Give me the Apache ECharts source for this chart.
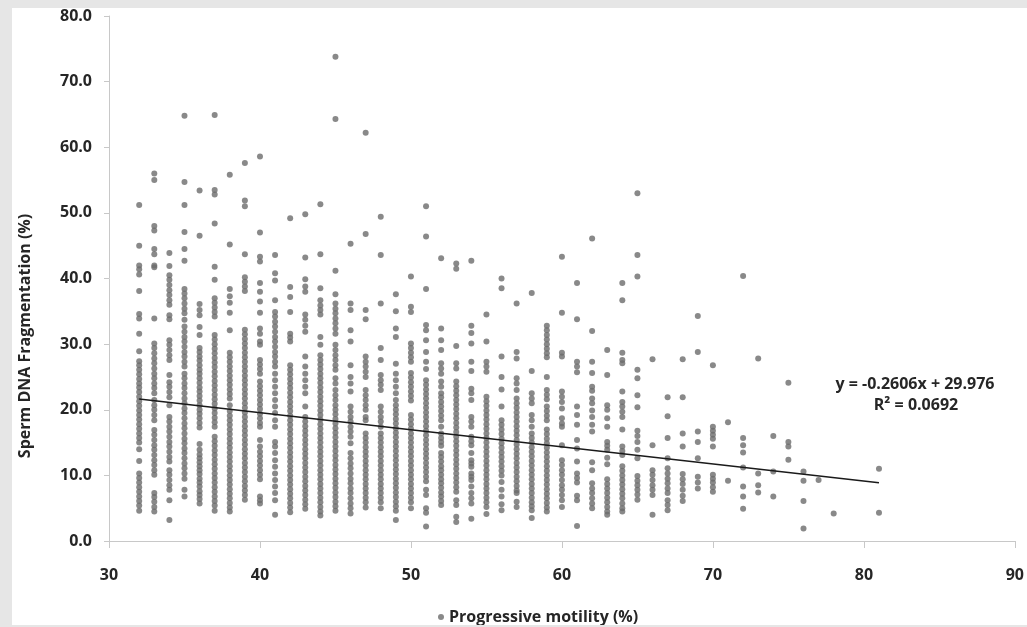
<!DOCTYPE html>
<html>
<head>
<meta charset="utf-8">
<script src="https://cdn.jsdelivr.net/npm/echarts@6/dist/echarts.min.js"></script>
<style>
	html, body { margin: 0; padding: 0; background: #e6e6e6; width: 1027px; height: 627px; overflow: hidden; }
	#chart { position: absolute; left: 12px; top: 8px; width: 1015px; height: 617px; background: #fff; }
</style>
</head>
<body>
<div id="chart"></div>
<script>
// x: progressive motility (%), one column of points per value
var motility = [32, 33, 34, 35, 36, 37, 38, 39, 40, 41, 42, 43, 44, 45, 46, 47, 48, 49, 50,
	51, 52, 53, 54, 55, 56, 57, 58, 59, 60, 61, 62, 63, 64, 65, 66, 67, 68, 69, 70,
	71, 72, 73, 74, 75, 76, 77, 78, 81];

// y: sperm DNA fragmentation (%)
var fragmentation = [
	[51.2, 45.0, 42.0, 41.4, 40.6, 38.1, 34.6, 33.9, 31.6, 28.9, 27.4, 26.8, 26.1, 25.4, 24.7, 24.0, 23.4, 22.7, 22.0, 21.3, 20.6, 19.9, 19.2, 18.5, 17.8, 17.1, 16.4, 15.7, 15.0, 14.0, 12.2, 10.3, 9.6, 8.9, 8.2, 7.5, 6.8, 6.1, 5.4, 4.6],
	[56.0, 55.0, 48.0, 47.3, 44.5, 43.7, 42.0, 41.7, 33.9, 30.1, 29.4, 28.6, 27.8, 27.1, 26.3, 25.5, 24.8, 24.0, 23.3, 22.5, 21.5, 20.7, 20.0, 19.2, 18.4, 16.9, 16.2, 15.4, 14.6, 13.9, 13.1, 12.3, 11.6, 10.8, 10.1, 7.3, 6.7, 6.0, 5.2, 4.5],
	[43.9, 41.9, 40.5, 39.8, 39.0, 38.2, 37.5, 36.7, 36.0, 34.4, 33.8, 30.6, 29.9, 29.1, 28.3, 27.6, 25.3, 24.2, 23.5, 22.7, 21.9, 20.7, 18.9, 18.2, 17.4, 16.7, 15.9, 15.1, 14.4, 13.6, 12.8, 12.1, 10.8, 10.1, 9.3, 8.5, 7.8, 6.2, 3.2],
	[64.8, 54.7, 51.2, 47.1, 44.5, 42.7, 38.4, 37.7, 37.0, 36.2, 35.4, 34.7, 33.7, 32.7, 31.9, 31.1, 30.4, 29.6, 28.8, 28.1, 27.3, 26.6, 25.5, 24.8, 24.0, 23.3, 22.5, 21.7, 21.0, 20.2, 19.5, 18.7, 17.9, 17.2, 16.4, 15.6, 14.9, 14.1, 13.4, 12.6, 11.8, 11.1, 10.3, 9.5, 7.8, 6.8],
	[53.4, 46.5, 36.1, 35.2, 34.4, 32.6, 31.4, 29.4, 28.8, 28.1, 27.5, 26.8, 26.1, 25.5, 24.8, 24.1, 23.4, 22.8, 22.1, 21.4, 20.7, 20.0, 19.4, 18.7, 18.0, 17.3, 14.8, 13.9, 13.2, 12.6, 12.0, 11.4, 10.8, 10.2, 9.5, 8.9, 8.3, 7.6, 7.0, 6.4, 5.7],
	[64.9, 53.5, 52.8, 48.4, 41.8, 39.8, 37.0, 36.3, 35.6, 34.9, 34.2, 31.4, 30.7, 30.0, 29.3, 28.6, 27.9, 27.2, 26.5, 25.8, 25.1, 24.4, 23.7, 23.0, 22.3, 21.6, 20.9, 20.2, 19.5, 18.8, 18.1, 17.4, 15.9, 15.2, 14.5, 13.8, 13.1, 12.4, 11.7, 11.0, 10.3, 9.6, 8.9, 8.2, 7.5, 6.8, 6.1, 5.4, 4.6],
	[55.8, 45.2, 38.4, 37.3, 36.3, 34.8, 32.1, 28.7, 28.0, 27.3, 26.6, 25.9, 25.2, 24.5, 23.8, 23.1, 22.4, 21.7, 20.7, 19.8, 19.1, 18.4, 17.7, 17.0, 16.3, 15.6, 14.9, 14.2, 13.5, 12.8, 12.1, 11.4, 10.7, 10.0, 9.3, 8.6, 7.9, 7.2, 6.5, 5.8, 5.1, 4.5],
	[57.6, 51.9, 51.0, 43.7, 40.2, 39.5, 38.8, 38.1, 32.2, 31.5, 30.8, 30.1, 29.4, 28.7, 28.0, 27.3, 26.6, 25.9, 25.2, 24.5, 23.8, 23.1, 22.4, 21.7, 21.0, 20.3, 19.6, 18.9, 18.2, 17.5, 16.8, 16.1, 15.4, 14.7, 14.0, 13.3, 12.6, 11.9, 11.2, 10.5, 9.8, 9.1, 8.4, 7.7, 7.0, 6.3],
	[58.6, 47.0, 43.3, 42.6, 39.3, 38.0, 36.5, 34.8, 32.4, 31.6, 30.4, 29.9, 27.6, 26.9, 26.2, 25.5, 24.3, 23.6, 22.9, 22.2, 21.5, 20.8, 20.1, 19.4, 18.7, 18.0, 17.4, 15.4, 14.4, 13.6, 12.9, 12.2, 11.5, 10.8, 10.1, 9.4, 6.8, 6.2, 5.7],
	[43.6, 40.8, 39.7, 36.7, 34.9, 34.2, 33.4, 32.7, 31.9, 31.1, 30.4, 29.6, 28.8, 28.1, 27.3, 26.6, 25.5, 24.5, 23.5, 22.5, 21.5, 20.5, 19.5, 18.4, 17.4, 15.1, 14.4, 13.4, 12.3, 11.3, 10.3, 9.3, 8.3, 7.3, 6.2, 4.0],
	[49.2, 38.7, 37.2, 34.9, 31.6, 31.0, 30.4, 26.8, 26.1, 25.4, 24.7, 24.0, 23.3, 22.6, 21.9, 21.2, 20.5, 19.8, 19.1, 18.4, 17.7, 17.0, 16.3, 15.6, 14.9, 14.2, 13.5, 12.8, 12.1, 11.4, 10.7, 10.0, 9.3, 8.6, 7.9, 7.2, 6.5, 5.8, 5.1, 4.4],
	[49.8, 43.2, 39.9, 38.8, 38.0, 34.5, 33.7, 32.8, 31.9, 28.1, 26.6, 25.5, 24.5, 23.5, 22.5, 20.5, 18.9, 18.2, 17.5, 16.8, 16.1, 15.4, 14.7, 14.0, 13.3, 12.6, 11.9, 11.2, 10.5, 9.8, 9.1, 8.4, 7.7, 7.0, 6.3, 5.6, 4.9],
	[51.3, 43.7, 38.5, 36.7, 35.9, 35.2, 34.5, 31.1, 29.9, 28.3, 27.6, 26.9, 26.2, 25.5, 24.8, 24.1, 23.4, 22.7, 22.0, 21.3, 20.6, 19.9, 19.2, 18.5, 17.8, 17.1, 16.4, 15.7, 15.0, 14.3, 13.6, 12.9, 12.2, 11.5, 10.8, 10.1, 9.4, 8.7, 8.0, 7.3, 6.6, 5.9, 5.2, 4.5, 3.9],
	[73.8, 64.3, 41.2, 37.6, 36.2, 35.4, 34.7, 33.9, 33.2, 32.4, 31.6, 29.9, 29.1, 28.3, 27.6, 26.8, 26.1, 24.8, 24.0, 23.0, 22.2, 21.5, 20.7, 20.0, 19.3, 18.6, 17.9, 17.2, 16.5, 15.8, 15.1, 14.4, 13.7, 13.0, 12.3, 11.6, 10.9, 10.2, 9.5, 8.8, 8.1, 7.4, 6.7, 6.0, 5.3, 4.6],
	[45.3, 36.2, 35.2, 32.1, 30.4, 26.8, 25.0, 24.0, 22.8, 20.5, 19.7, 18.9, 18.2, 17.4, 16.7, 15.9, 14.9, 13.4, 12.6, 11.8, 11.1, 10.3, 9.5, 8.8, 8.0, 7.3, 6.5, 5.7, 5.0, 4.2],
	[62.2, 46.8, 35.2, 33.8, 28.1, 27.3, 26.6, 25.8, 25.0, 23.0, 22.2, 21.5, 20.7, 20.0, 18.9, 18.4, 16.4, 15.7, 15.0, 14.3, 13.6, 12.9, 12.2, 11.5, 10.8, 10.1, 9.4, 8.7, 8.0, 7.3, 6.6, 5.9, 5.1],
	[49.4, 43.6, 36.2, 29.4, 27.6, 25.3, 24.5, 23.8, 23.0, 20.5, 19.7, 18.9, 18.2, 17.4, 16.4, 15.7, 15.0, 14.3, 13.6, 12.9, 12.2, 11.5, 10.8, 10.1, 9.4, 8.7, 8.0, 7.3, 6.6, 5.9, 5.0],
	[37.6, 35.0, 32.4, 31.1, 27.0, 25.5, 24.5, 23.5, 22.5, 21.5, 20.7, 20.0, 19.3, 18.6, 17.9, 17.2, 16.5, 15.8, 15.1, 14.4, 13.7, 13.0, 12.3, 11.6, 10.9, 10.2, 9.5, 8.8, 8.1, 7.4, 6.7, 6.0, 5.3, 4.6, 3.2],
	[40.3, 35.7, 34.9, 30.1, 29.4, 28.7, 28.0, 27.3, 25.6, 24.9, 24.2, 23.5, 22.8, 22.1, 21.4, 19.2, 18.5, 17.8, 17.1, 16.4, 15.7, 15.0, 14.3, 13.6, 12.9, 12.2, 11.5, 10.8, 10.1, 9.4, 8.7, 8.0, 7.3, 6.6, 5.9, 5.0],
	[51.0, 46.4, 38.4, 32.9, 32.1, 30.6, 28.8, 27.3, 26.2, 24.5, 23.8, 23.1, 22.4, 21.7, 21.0, 20.3, 19.6, 18.9, 18.2, 17.5, 16.8, 16.1, 15.4, 14.7, 14.0, 13.3, 12.6, 11.9, 11.2, 10.5, 9.8, 9.1, 7.8, 7.0, 5.0, 4.3, 2.2],
	[43.1, 32.4, 30.6, 29.1, 27.1, 26.3, 25.5, 24.3, 23.5, 22.5, 21.9, 21.2, 20.5, 19.8, 19.1, 18.4, 17.4, 16.4, 15.7, 15.1, 14.5, 13.4, 12.8, 12.1, 11.4, 10.8, 10.1, 9.4, 8.8, 8.1, 7.4, 6.8, 6.1, 5.5],
	[42.3, 41.5, 29.7, 27.1, 26.3, 24.3, 23.6, 22.9, 22.2, 21.5, 20.8, 20.1, 19.4, 18.7, 18.0, 17.3, 16.6, 15.9, 15.2, 14.5, 13.8, 13.1, 12.4, 11.7, 11.0, 10.3, 9.6, 8.9, 8.2, 7.5, 6.2, 5.5, 3.7, 2.9],
	[42.7, 32.8, 31.7, 30.1, 27.3, 25.9, 23.2, 22.5, 21.5, 18.9, 18.2, 17.4, 15.9, 15.2, 14.6, 13.4, 12.3, 11.8, 11.3, 10.3, 9.8, 9.3, 8.3, 7.3, 6.5, 5.7, 3.4],
	[34.5, 30.4, 27.3, 26.6, 25.8, 22.0, 21.3, 20.6, 19.9, 19.2, 18.5, 17.8, 17.1, 16.4, 15.7, 15.0, 14.3, 13.6, 12.9, 12.2, 11.5, 10.8, 10.1, 9.4, 8.7, 8.0, 7.3, 6.6, 5.9, 5.2, 4.1],
	[40.0, 38.5, 28.1, 25.0, 23.1, 20.5, 18.4, 17.7, 17.0, 16.3, 15.6, 14.9, 14.2, 13.5, 12.8, 12.1, 11.4, 10.7, 10.0, 9.0, 7.8, 6.8, 5.6, 4.7],
	[36.2, 28.8, 27.8, 24.8, 24.0, 23.0, 21.7, 21.0, 20.3, 19.6, 18.9, 18.2, 17.5, 16.8, 16.1, 15.4, 14.7, 14.0, 13.3, 12.6, 11.9, 11.2, 10.5, 9.8, 9.1, 8.4, 7.7, 7.3, 6.0, 5.2],
	[37.8, 25.9, 22.5, 21.7, 21.0, 19.2, 18.4, 17.4, 16.4, 15.7, 15.0, 14.3, 13.6, 12.9, 12.2, 11.5, 10.8, 10.1, 9.4, 8.7, 8.0, 7.3, 6.6, 5.9, 5.3, 4.7, 3.5],
	[32.8, 32.1, 31.4, 30.7, 30.0, 29.3, 28.6, 28.0, 25.0, 23.0, 22.3, 21.6, 20.5, 19.8, 19.1, 18.4, 17.0, 16.3, 15.6, 14.9, 14.2, 13.5, 12.8, 12.1, 11.4, 10.7, 10.0, 9.3, 8.6, 7.9, 7.2, 6.5, 5.8, 5.1, 4.5],
	[43.3, 34.8, 28.7, 28.1, 22.8, 22.0, 21.2, 20.2, 18.7, 17.9, 17.4, 14.6, 12.3, 11.6, 10.8, 10.1, 9.3, 8.5, 7.8, 7.0, 6.2, 5.2],
	[39.3, 33.8, 27.3, 26.6, 25.7, 20.5, 19.2, 17.7, 15.4, 14.1, 12.1, 10.3, 9.6, 8.9, 6.9, 6.2, 2.3],
	[46.1, 32.0, 27.3, 25.6, 23.5, 22.9, 21.7, 21.0, 19.9, 18.9, 17.7, 16.7, 12.0, 10.8, 8.8, 8.0, 7.3, 6.5, 5.7, 5.0],
	[29.1, 25.3, 20.7, 20.0, 18.7, 17.4, 15.1, 14.5, 13.9, 12.7, 11.7, 9.4, 8.7, 8.0, 7.3, 6.6, 5.9, 5.2, 4.5, 4.0],
	[39.3, 36.7, 28.7, 27.6, 27.1, 22.8, 21.2, 20.5, 19.7, 18.9, 17.0, 14.4, 13.7, 13.1, 11.4, 10.7, 10.0, 9.3, 8.6, 7.9, 7.2, 6.5, 5.7, 5.0, 4.5],
	[53.0, 43.6, 40.3, 26.1, 24.8, 22.2, 20.4, 16.8, 16.0, 15.1, 13.9, 12.6, 9.9, 9.2, 8.5, 7.8, 7.1, 6.3],
	[27.7, 14.6, 10.8, 10.1, 9.3, 8.5, 7.8, 7.0, 4.0],
	[21.9, 19.0, 15.7, 12.6, 11.1, 10.3, 9.5, 8.8, 8.0, 7.3, 6.2, 5.5, 4.7],
	[27.7, 21.9, 16.4, 14.4, 10.2, 9.4, 8.7, 7.8, 6.9, 6.1],
	[34.3, 28.8, 16.7, 15.1, 12.6, 9.8, 8.9, 8.0],
	[26.8, 17.4, 16.8, 16.2, 15.6, 14.4, 10.1, 9.5, 8.9, 8.2, 7.5],
	[18.1, 9.2],
	[40.4, 15.7, 14.6, 13.5, 11.2, 8.3, 6.8, 4.9],
	[27.8, 10.3, 8.5, 7.4],
	[16.0, 10.6, 6.8],
	[24.1, 15.1, 14.4, 12.4],
	[10.6, 9.2, 6.1, 1.9],
	[9.3],
	[4.2],
	[11.0, 4.3]
];

// linear trend line as printed on the chart
var trendSlope = -0.2606;
var trendIntercept = 29.976;
var trendR2 = '0.0692';
var trendRange = [32, 81];

var xTicks = [30, 90, 10];
var yTicks = [0, 80, 10];

var chart = echarts.init(document.getElementById('chart'));

var points = [];
for(var i = 0; i < motility.length; i++) {
	for(var j = 0; j < fragmentation[i].length; j++) {
		points.push([motility[i], fragmentation[i][j]]);
	}
}

var trend = [];
for(var k = 0; k < trendRange.length; k++) {
	trend.push([trendRange[k], trendSlope * trendRange[k] + trendIntercept]);
}

var font = 'Open Sans';

var option = {
	backgroundColor: '#fff',
	animation: false,
	grid: {
		left: 97,
		top: 8,
		width: 906,
		height: 525
	},
	legend: {
		data: ['Progressive motility (%)'],
		left: 421,
		top: 596,
		icon: 'circle',
		itemWidth: 6,
		itemHeight: 6,
		itemGap: 4,
		textStyle: {
			fontFamily: font,
			fontSize: 16,
			fontWeight: 'bold',
			color: '#262626'
		}
	},
	xAxis: {
		type: 'value',
		min: xTicks[0],
		max: xTicks[1],
		interval: xTicks[2],
		splitLine: { show: false },
		axisLine: { lineStyle: { color: '#c8c8c8' } },
		axisTick: { length: 7, lineStyle: { color: '#c8c8c8' } },
		axisLabel: {
			margin: 26,
			fontFamily: font,
			fontSize: 16,
			fontWeight: 'bold',
			color: '#262626'
		}
	},
	yAxis: {
		type: 'value',
		min: yTicks[0],
		max: yTicks[1],
		interval: yTicks[2],
		splitLine: { show: false },
		axisLine: { show: true, lineStyle: { color: '#c8c8c8' } },
		axisTick: { show: true, length: 5, lineStyle: { color: '#c8c8c8' } },
		axisLabel: {
			margin: 17,
			fontFamily: font,
			fontSize: 16,
			fontWeight: 'bold',
			color: '#262626',
			formatter: function(v) {
				return v.toFixed(1);
			}
		}
	},
	graphic: [{
		type: 'text',
		x: 13,
		y: 328,
		rotation: Math.PI / 2,
		style: {
			text: 'Sperm DNA Fragmentation (%)',
			fontFamily: font,
			fontSize: 16,
			fontWeight: 'bold',
			fill: '#262626',
			align: 'center',
			verticalAlign: 'middle'
		}
	}, {
		type: 'text',
		x: 903,
		y: 376,
		style: {
			text: 'y = ' + trendSlope + 'x + ' + trendIntercept,
			fontFamily: font,
			fontSize: 16,
			fontWeight: 'bold',
			fill: '#262626',
			align: 'center',
			verticalAlign: 'middle'
		}
	}, {
		type: 'text',
		x: 904,
		y: 397,
		style: {
			text: 'R² = ' + trendR2,
			fontFamily: font,
			fontSize: 16,
			fontWeight: 'bold',
			fill: '#262626',
			align: 'center',
			verticalAlign: 'middle'
		}
	}],
	series: [{
		name: 'Progressive motility (%)',
		type: 'scatter',
		symbolSize: 6,
		itemStyle: { color: '#6b6b6b' },
		data: points
	}, {
		name: 'Linear',
		type: 'line',
		symbol: 'none',
		silent: true,
		lineStyle: { color: '#1a1a1a', width: 1.4 },
		data: trend
	}]
};

chart.setOption(option);
</script>
</body>
</html>
